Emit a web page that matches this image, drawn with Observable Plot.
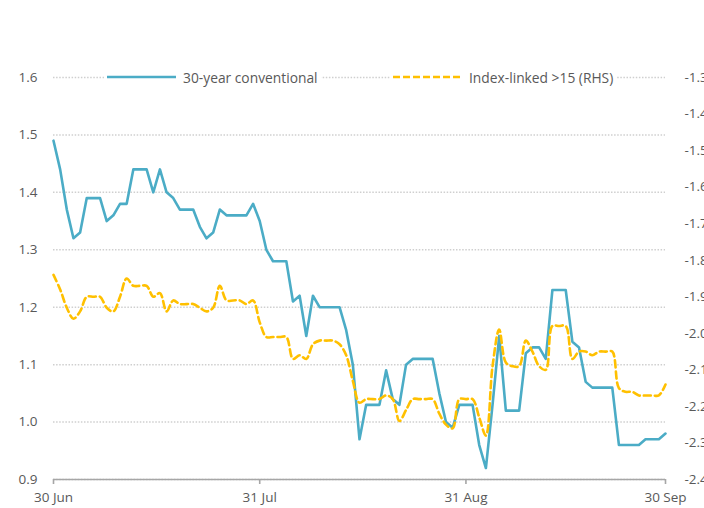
<!DOCTYPE html>
<html><head><meta charset="utf-8">
<script src="https://cdn.jsdelivr.net/npm/d3@7"></script>
<script src="https://cdn.jsdelivr.net/npm/@observablehq/plot@0.6"></script>
<style>
html,body{margin:0;padding:0;background:#fff;overflow:hidden;}
#wrap{position:relative;width:704px;height:508px;font-family:"Open Sans",sans-serif;}
.leg{position:absolute;top:67px;height:20px;background:#fff;display:flex;align-items:center;font-size:13.8px;color:#595959;padding:0 3px;white-space:nowrap;}
.leg svg{margin-right:7px;}
</style></head><body><div id="wrap"></div>
<script>
// Daily dates, 30 Jun 2019 .. 30 Sep 2019 (weekend values carried forward)
const dates = d3.utcDay.range(new Date("2019-06-30"), new Date("2019-10-01"));

// 30-year conventional gilt yield (%), left axis
const conventional = [
  1.49,1.44,1.37,1.32,1.33,1.39,1.39,1.39,1.35,1.36,
  1.38,1.38,1.44,1.44,1.44,1.40,1.44,1.40,1.39,1.37,
  1.37,1.37,1.34,1.32,1.33,1.37,1.36,1.36,1.36,1.36,
  1.38,1.35,1.30,1.28,1.28,1.28,1.21,1.22,1.15,1.22,
  1.20,1.20,1.20,1.20,1.16,1.10,0.97,1.03,1.03,1.03,
  1.09,1.04,1.03,1.10,1.11,1.11,1.11,1.11,1.05,1.00,
  0.99,1.03,1.03,1.03,0.96,0.92,1.03,1.15,1.02,1.02,
  1.02,1.12,1.13,1.13,1.11,1.23,1.23,1.23,1.14,1.13,
  1.07,1.06,1.06,1.06,1.06,0.96,0.96,0.96,0.96,0.97,
  0.97,0.97,0.98
];

// Index-linked >15 years real yield (%), right axis
const indexLinked = [
  -1.84,-1.88,-1.93,-1.96,-1.94,-1.90,-1.90,-1.90,-1.93,-1.94,
  -1.90,-1.85,-1.87,-1.87,-1.87,-1.90,-1.89,-1.94,-1.91,-1.92,
  -1.92,-1.92,-1.93,-1.94,-1.93,-1.87,-1.91,-1.91,-1.91,-1.92,
  -1.91,-1.97,-2.01,-2.01,-2.01,-2.01,-2.07,-2.06,-2.07,-2.03,
  -2.02,-2.02,-2.02,-2.03,-2.06,-2.13,-2.19,-2.18,-2.18,-2.18,
  -2.17,-2.18,-2.24,-2.21,-2.18,-2.18,-2.18,-2.18,-2.22,-2.25,
  -2.26,-2.18,-2.18,-2.18,-2.23,-2.28,-2.09,-1.99,-2.08,-2.09,
  -2.09,-2.02,-2.05,-2.09,-2.10,-1.98,-1.98,-1.98,-2.07,-2.05,
  -2.05,-2.06,-2.05,-2.05,-2.05,-2.15,-2.16,-2.16,-2.17,-2.17,
  -2.17,-2.17,-2.14
];

const leftTicks = [0.9,1.0,1.1,1.2,1.3,1.4,1.5,1.6];
const rightTicks = [-2.4,-2.3,-2.2,-2.1,-2.0,-1.9,-1.8,-1.7,-1.6,-1.5,-1.4,-1.3];
const xTicks = [new Date("2019-06-30"), new Date("2019-07-31"), new Date("2019-08-31"), new Date("2019-09-30")];
const seriesNames = ["30-year conventional", "Index-linked >15 (RHS)"];
const colors = ["#4BACC6", "#FFC000"];

const L0 = 0.9, L1 = 1.6, R0 = -2.4, R1 = -1.3;
const toLeft = r => L0 + (r - R0) * (L1 - L0) / (R1 - R0);
const fromLeft = l => R0 + (l - L0) * (R1 - R0) / (L1 - L0);

const rows = dates.map((d, i) => ({date: d, conv: conventional[i], il: toLeft(indexLinked[i])}));

const chart = Plot.plot({
  width: 704, height: 508,
  marginLeft: 53, marginRight: 39, marginTop: 77, marginBottom: 29,
  style: {fontFamily: "'Open Sans', sans-serif", fontSize: "13.5px", color: "#595959", background: "white"},
  x: {type: "utc", domain: [dates[0], dates[dates.length - 1]]},
  y: {domain: [L0, L1]},
  marks: [
    Plot.gridY(leftTicks, {stroke: "#cfcfcf", strokeOpacity: 1, strokeWidth: 1.5, strokeDasharray: "1.5,1.6"}),
    Plot.axisY(leftTicks, {anchor: "left", tickSize: 0, tickPadding: 16, tickFormat: d => d.toFixed(1), label: null}),
    Plot.axisY(rightTicks.map(toLeft), {anchor: "right", tickSize: 0, tickPadding: 19, tickFormat: d => fromLeft(d).toFixed(1), label: null}),
    Plot.ruleY([L0], {stroke: "#a6a6a6", strokeWidth: 1.6}),
    Plot.axisX(xTicks, {tickSize: 5, tickPadding: 8, stroke: "#a6a6a6", strokeWidth: 1.6, tickFormat: d3.utcFormat("%-d %b"), label: null}),
    Plot.line(rows, {x: "date", y: "conv", stroke: colors[0], strokeWidth: 2.6}),
    Plot.line(rows, {x: "date", y: "il", stroke: colors[1], strokeWidth: 2.6, strokeDasharray: "7,4", curve: "catmull-rom"})
  ]
});

const wrap = document.getElementById("wrap");
wrap.appendChild(chart);

// Legend (overlaid on the top gridline, as in the original)
const legPos = [104, 390];
seriesNames.forEach((name, i) => {
  const div = document.createElement("div");
  div.className = "leg";
  div.style.left = legPos[i] + "px";
  const dash = i === 1 ? ' stroke-dasharray="7,3"' : '';
  div.innerHTML = `<svg width="69" height="6"><line x1="0" x2="69" y1="3" y2="3" stroke="${colors[i]}" stroke-width="2.6"${dash}/></svg><span>${name.replace(">", "&gt;")}</span>`;
  wrap.appendChild(div);
});
</script></body></html>
